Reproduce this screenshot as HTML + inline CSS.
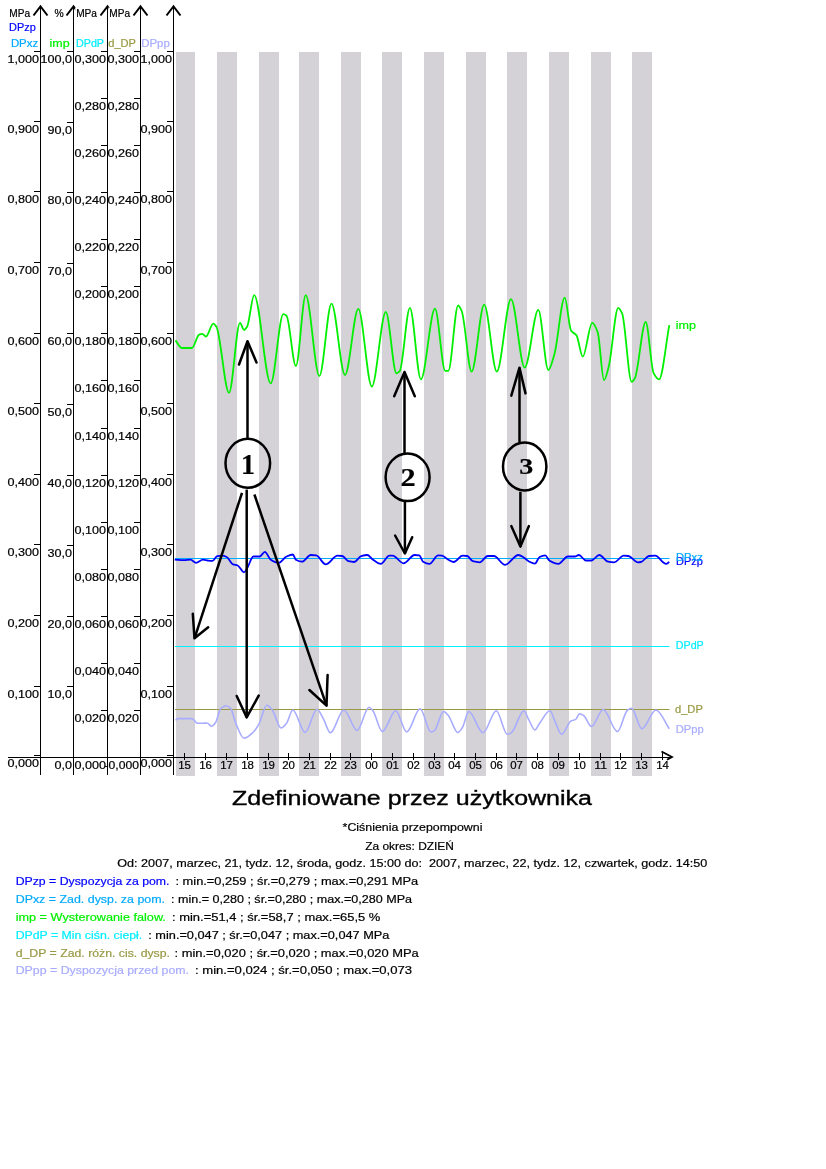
<!DOCTYPE html>
<html><head><meta charset="utf-8"><style>
html,body{margin:0;padding:0;background:#fff;}
body{width:826px;height:1169px;overflow:hidden;}
svg{display:block;font-family:"Liberation Sans", sans-serif;will-change:transform;} text{stroke:currentColor;stroke-width:0.2px;}
</style></head><body>
<svg width="826" height="1169" viewBox="0 0 826 1169">
<rect width="826" height="1169" fill="#fff"/>
<rect x="176" y="52" width="19" height="724" fill="#d4d2d6"/>
<rect x="217" y="52" width="20" height="724" fill="#d4d2d6"/>
<rect x="259" y="52" width="20" height="724" fill="#d4d2d6"/>
<rect x="299" y="52" width="20" height="724" fill="#d4d2d6"/>
<rect x="341" y="52" width="20" height="724" fill="#d4d2d6"/>
<rect x="382" y="52" width="20" height="724" fill="#d4d2d6"/>
<rect x="424" y="52" width="20" height="724" fill="#d4d2d6"/>
<rect x="466" y="52" width="20" height="724" fill="#d4d2d6"/>
<rect x="507" y="52" width="20" height="724" fill="#d4d2d6"/>
<rect x="549" y="52" width="20" height="724" fill="#d4d2d6"/>
<rect x="591" y="52" width="20" height="724" fill="#d4d2d6"/>
<rect x="632" y="52" width="20" height="724" fill="#d4d2d6"/>
<line x1="40.5" y1="7" x2="40.5" y2="775" stroke="#000" stroke-width="1"/>
<line x1="73.5" y1="7" x2="73.5" y2="775" stroke="#000" stroke-width="1"/>
<line x1="107.5" y1="7" x2="107.5" y2="775" stroke="#000" stroke-width="1"/>
<line x1="140.5" y1="7" x2="140.5" y2="775" stroke="#000" stroke-width="1"/>
<line x1="173.5" y1="7" x2="173.5" y2="775" stroke="#000" stroke-width="1"/>
<line x1="8" y1="757.5" x2="671" y2="757.5" stroke="#000" stroke-width="1"/>
<line x1="34" y1="51.5" x2="40.5" y2="51.5" stroke="#000" stroke-width="1"/>
<text x="39" y="63.0" text-anchor="end" font-size="11" textLength="31.5" lengthAdjust="spacingAndGlyphs">1,000</text>
<line x1="167" y1="51.5" x2="173.5" y2="51.5" stroke="#000" stroke-width="1"/>
<text x="172" y="63.0" text-anchor="end" font-size="11" textLength="31.5" lengthAdjust="spacingAndGlyphs">1,000</text>
<line x1="67" y1="51.5" x2="73.5" y2="51.5" stroke="#000" stroke-width="1"/>
<text x="72" y="63.0" text-anchor="end" font-size="11" textLength="31.5" lengthAdjust="spacingAndGlyphs">100,0</text>
<line x1="34" y1="121.5" x2="40.5" y2="121.5" stroke="#000" stroke-width="1"/>
<text x="39" y="133.0" text-anchor="end" font-size="11" textLength="31.5" lengthAdjust="spacingAndGlyphs">0,900</text>
<line x1="167" y1="121.5" x2="173.5" y2="121.5" stroke="#000" stroke-width="1"/>
<text x="172" y="133.0" text-anchor="end" font-size="11" textLength="31.5" lengthAdjust="spacingAndGlyphs">0,900</text>
<line x1="67" y1="122.5" x2="73.5" y2="122.5" stroke="#000" stroke-width="1"/>
<text x="72" y="134.0" text-anchor="end" font-size="11" textLength="24.5" lengthAdjust="spacingAndGlyphs">90,0</text>
<line x1="34" y1="191.5" x2="40.5" y2="191.5" stroke="#000" stroke-width="1"/>
<text x="39" y="203.0" text-anchor="end" font-size="11" textLength="31.5" lengthAdjust="spacingAndGlyphs">0,800</text>
<line x1="167" y1="191.5" x2="173.5" y2="191.5" stroke="#000" stroke-width="1"/>
<text x="172" y="203.0" text-anchor="end" font-size="11" textLength="31.5" lengthAdjust="spacingAndGlyphs">0,800</text>
<line x1="67" y1="192.5" x2="73.5" y2="192.5" stroke="#000" stroke-width="1"/>
<text x="72" y="204.0" text-anchor="end" font-size="11" textLength="24.5" lengthAdjust="spacingAndGlyphs">80,0</text>
<line x1="34" y1="262.5" x2="40.5" y2="262.5" stroke="#000" stroke-width="1"/>
<text x="39" y="274.0" text-anchor="end" font-size="11" textLength="31.5" lengthAdjust="spacingAndGlyphs">0,700</text>
<line x1="167" y1="262.5" x2="173.5" y2="262.5" stroke="#000" stroke-width="1"/>
<text x="172" y="274.0" text-anchor="end" font-size="11" textLength="31.5" lengthAdjust="spacingAndGlyphs">0,700</text>
<line x1="67" y1="263.5" x2="73.5" y2="263.5" stroke="#000" stroke-width="1"/>
<text x="72" y="275.0" text-anchor="end" font-size="11" textLength="24.5" lengthAdjust="spacingAndGlyphs">70,0</text>
<line x1="34" y1="333.5" x2="40.5" y2="333.5" stroke="#000" stroke-width="1"/>
<text x="39" y="345.0" text-anchor="end" font-size="11" textLength="31.5" lengthAdjust="spacingAndGlyphs">0,600</text>
<line x1="167" y1="333.5" x2="173.5" y2="333.5" stroke="#000" stroke-width="1"/>
<text x="172" y="345.0" text-anchor="end" font-size="11" textLength="31.5" lengthAdjust="spacingAndGlyphs">0,600</text>
<line x1="67" y1="333.5" x2="73.5" y2="333.5" stroke="#000" stroke-width="1"/>
<text x="72" y="345.0" text-anchor="end" font-size="11" textLength="24.5" lengthAdjust="spacingAndGlyphs">60,0</text>
<line x1="34" y1="403.5" x2="40.5" y2="403.5" stroke="#000" stroke-width="1"/>
<text x="39" y="415.0" text-anchor="end" font-size="11" textLength="31.5" lengthAdjust="spacingAndGlyphs">0,500</text>
<line x1="167" y1="403.5" x2="173.5" y2="403.5" stroke="#000" stroke-width="1"/>
<text x="172" y="415.0" text-anchor="end" font-size="11" textLength="31.5" lengthAdjust="spacingAndGlyphs">0,500</text>
<line x1="67" y1="404.5" x2="73.5" y2="404.5" stroke="#000" stroke-width="1"/>
<text x="72" y="416.0" text-anchor="end" font-size="11" textLength="24.5" lengthAdjust="spacingAndGlyphs">50,0</text>
<line x1="34" y1="474.5" x2="40.5" y2="474.5" stroke="#000" stroke-width="1"/>
<text x="39" y="486.0" text-anchor="end" font-size="11" textLength="31.5" lengthAdjust="spacingAndGlyphs">0,400</text>
<line x1="167" y1="474.5" x2="173.5" y2="474.5" stroke="#000" stroke-width="1"/>
<text x="172" y="486.0" text-anchor="end" font-size="11" textLength="31.5" lengthAdjust="spacingAndGlyphs">0,400</text>
<line x1="67" y1="475.5" x2="73.5" y2="475.5" stroke="#000" stroke-width="1"/>
<text x="72" y="487.0" text-anchor="end" font-size="11" textLength="24.5" lengthAdjust="spacingAndGlyphs">40,0</text>
<line x1="34" y1="544.5" x2="40.5" y2="544.5" stroke="#000" stroke-width="1"/>
<text x="39" y="556.0" text-anchor="end" font-size="11" textLength="31.5" lengthAdjust="spacingAndGlyphs">0,300</text>
<line x1="167" y1="544.5" x2="173.5" y2="544.5" stroke="#000" stroke-width="1"/>
<text x="172" y="556.0" text-anchor="end" font-size="11" textLength="31.5" lengthAdjust="spacingAndGlyphs">0,300</text>
<line x1="67" y1="545.5" x2="73.5" y2="545.5" stroke="#000" stroke-width="1"/>
<text x="72" y="557.0" text-anchor="end" font-size="11" textLength="24.5" lengthAdjust="spacingAndGlyphs">30,0</text>
<line x1="34" y1="615.5" x2="40.5" y2="615.5" stroke="#000" stroke-width="1"/>
<text x="39" y="627.0" text-anchor="end" font-size="11" textLength="31.5" lengthAdjust="spacingAndGlyphs">0,200</text>
<line x1="167" y1="615.5" x2="173.5" y2="615.5" stroke="#000" stroke-width="1"/>
<text x="172" y="627.0" text-anchor="end" font-size="11" textLength="31.5" lengthAdjust="spacingAndGlyphs">0,200</text>
<line x1="67" y1="616.5" x2="73.5" y2="616.5" stroke="#000" stroke-width="1"/>
<text x="72" y="628.0" text-anchor="end" font-size="11" textLength="24.5" lengthAdjust="spacingAndGlyphs">20,0</text>
<line x1="34" y1="686.5" x2="40.5" y2="686.5" stroke="#000" stroke-width="1"/>
<text x="39" y="698.0" text-anchor="end" font-size="11" textLength="31.5" lengthAdjust="spacingAndGlyphs">0,100</text>
<line x1="167" y1="686.5" x2="173.5" y2="686.5" stroke="#000" stroke-width="1"/>
<text x="172" y="698.0" text-anchor="end" font-size="11" textLength="31.5" lengthAdjust="spacingAndGlyphs">0,100</text>
<line x1="67" y1="686.5" x2="73.5" y2="686.5" stroke="#000" stroke-width="1"/>
<text x="72" y="698.0" text-anchor="end" font-size="11" textLength="24.5" lengthAdjust="spacingAndGlyphs">10,0</text>
<line x1="34" y1="755.5" x2="40.5" y2="755.5" stroke="#000" stroke-width="1"/>
<text x="39" y="767.0" text-anchor="end" font-size="11" textLength="31.5" lengthAdjust="spacingAndGlyphs">0,000</text>
<line x1="167" y1="755.5" x2="173.5" y2="755.5" stroke="#000" stroke-width="1"/>
<text x="172" y="767.0" text-anchor="end" font-size="11" textLength="31.5" lengthAdjust="spacingAndGlyphs">0,000</text>
<line x1="67" y1="757.5" x2="73.5" y2="757.5" stroke="#000" stroke-width="1"/>
<text x="72" y="769.0" text-anchor="end" font-size="11" textLength="17.5" lengthAdjust="spacingAndGlyphs">0,0</text>
<line x1="101" y1="51.5" x2="107.5" y2="51.5" stroke="#000" stroke-width="1"/>
<text x="106" y="63.0" text-anchor="end" font-size="11" textLength="31.5" lengthAdjust="spacingAndGlyphs">0,300</text>
<line x1="134" y1="51.5" x2="140.5" y2="51.5" stroke="#000" stroke-width="1"/>
<text x="139" y="63.0" text-anchor="end" font-size="11" textLength="31.5" lengthAdjust="spacingAndGlyphs">0,300</text>
<line x1="101" y1="98.5" x2="107.5" y2="98.5" stroke="#000" stroke-width="1"/>
<text x="106" y="110.0" text-anchor="end" font-size="11" textLength="31.5" lengthAdjust="spacingAndGlyphs">0,280</text>
<line x1="134" y1="98.5" x2="140.5" y2="98.5" stroke="#000" stroke-width="1"/>
<text x="139" y="110.0" text-anchor="end" font-size="11" textLength="31.5" lengthAdjust="spacingAndGlyphs">0,280</text>
<line x1="101" y1="145.5" x2="107.5" y2="145.5" stroke="#000" stroke-width="1"/>
<text x="106" y="157.0" text-anchor="end" font-size="11" textLength="31.5" lengthAdjust="spacingAndGlyphs">0,260</text>
<line x1="134" y1="145.5" x2="140.5" y2="145.5" stroke="#000" stroke-width="1"/>
<text x="139" y="157.0" text-anchor="end" font-size="11" textLength="31.5" lengthAdjust="spacingAndGlyphs">0,260</text>
<line x1="101" y1="192.5" x2="107.5" y2="192.5" stroke="#000" stroke-width="1"/>
<text x="106" y="204.0" text-anchor="end" font-size="11" textLength="31.5" lengthAdjust="spacingAndGlyphs">0,240</text>
<line x1="134" y1="192.5" x2="140.5" y2="192.5" stroke="#000" stroke-width="1"/>
<text x="139" y="204.0" text-anchor="end" font-size="11" textLength="31.5" lengthAdjust="spacingAndGlyphs">0,240</text>
<line x1="101" y1="239.5" x2="107.5" y2="239.5" stroke="#000" stroke-width="1"/>
<text x="106" y="251.0" text-anchor="end" font-size="11" textLength="31.5" lengthAdjust="spacingAndGlyphs">0,220</text>
<line x1="134" y1="239.5" x2="140.5" y2="239.5" stroke="#000" stroke-width="1"/>
<text x="139" y="251.0" text-anchor="end" font-size="11" textLength="31.5" lengthAdjust="spacingAndGlyphs">0,220</text>
<line x1="101" y1="286.5" x2="107.5" y2="286.5" stroke="#000" stroke-width="1"/>
<text x="106" y="298.0" text-anchor="end" font-size="11" textLength="31.5" lengthAdjust="spacingAndGlyphs">0,200</text>
<line x1="134" y1="286.5" x2="140.5" y2="286.5" stroke="#000" stroke-width="1"/>
<text x="139" y="298.0" text-anchor="end" font-size="11" textLength="31.5" lengthAdjust="spacingAndGlyphs">0,200</text>
<line x1="101" y1="333.5" x2="107.5" y2="333.5" stroke="#000" stroke-width="1"/>
<text x="106" y="345.0" text-anchor="end" font-size="11" textLength="31.5" lengthAdjust="spacingAndGlyphs">0,180</text>
<line x1="134" y1="333.5" x2="140.5" y2="333.5" stroke="#000" stroke-width="1"/>
<text x="139" y="345.0" text-anchor="end" font-size="11" textLength="31.5" lengthAdjust="spacingAndGlyphs">0,180</text>
<line x1="101" y1="380.5" x2="107.5" y2="380.5" stroke="#000" stroke-width="1"/>
<text x="106" y="392.0" text-anchor="end" font-size="11" textLength="31.5" lengthAdjust="spacingAndGlyphs">0,160</text>
<line x1="134" y1="380.5" x2="140.5" y2="380.5" stroke="#000" stroke-width="1"/>
<text x="139" y="392.0" text-anchor="end" font-size="11" textLength="31.5" lengthAdjust="spacingAndGlyphs">0,160</text>
<line x1="101" y1="428.5" x2="107.5" y2="428.5" stroke="#000" stroke-width="1"/>
<text x="106" y="440.0" text-anchor="end" font-size="11" textLength="31.5" lengthAdjust="spacingAndGlyphs">0,140</text>
<line x1="134" y1="428.5" x2="140.5" y2="428.5" stroke="#000" stroke-width="1"/>
<text x="139" y="440.0" text-anchor="end" font-size="11" textLength="31.5" lengthAdjust="spacingAndGlyphs">0,140</text>
<line x1="101" y1="475.5" x2="107.5" y2="475.5" stroke="#000" stroke-width="1"/>
<text x="106" y="487.0" text-anchor="end" font-size="11" textLength="31.5" lengthAdjust="spacingAndGlyphs">0,120</text>
<line x1="134" y1="475.5" x2="140.5" y2="475.5" stroke="#000" stroke-width="1"/>
<text x="139" y="487.0" text-anchor="end" font-size="11" textLength="31.5" lengthAdjust="spacingAndGlyphs">0,120</text>
<line x1="101" y1="522.5" x2="107.5" y2="522.5" stroke="#000" stroke-width="1"/>
<text x="106" y="534.0" text-anchor="end" font-size="11" textLength="31.5" lengthAdjust="spacingAndGlyphs">0,100</text>
<line x1="134" y1="522.5" x2="140.5" y2="522.5" stroke="#000" stroke-width="1"/>
<text x="139" y="534.0" text-anchor="end" font-size="11" textLength="31.5" lengthAdjust="spacingAndGlyphs">0,100</text>
<line x1="101" y1="569.5" x2="107.5" y2="569.5" stroke="#000" stroke-width="1"/>
<text x="106" y="581.0" text-anchor="end" font-size="11" textLength="31.5" lengthAdjust="spacingAndGlyphs">0,080</text>
<line x1="134" y1="569.5" x2="140.5" y2="569.5" stroke="#000" stroke-width="1"/>
<text x="139" y="581.0" text-anchor="end" font-size="11" textLength="31.5" lengthAdjust="spacingAndGlyphs">0,080</text>
<line x1="101" y1="616.5" x2="107.5" y2="616.5" stroke="#000" stroke-width="1"/>
<text x="106" y="628.0" text-anchor="end" font-size="11" textLength="31.5" lengthAdjust="spacingAndGlyphs">0,060</text>
<line x1="134" y1="616.5" x2="140.5" y2="616.5" stroke="#000" stroke-width="1"/>
<text x="139" y="628.0" text-anchor="end" font-size="11" textLength="31.5" lengthAdjust="spacingAndGlyphs">0,060</text>
<line x1="101" y1="663.5" x2="107.5" y2="663.5" stroke="#000" stroke-width="1"/>
<text x="106" y="675.0" text-anchor="end" font-size="11" textLength="31.5" lengthAdjust="spacingAndGlyphs">0,040</text>
<line x1="134" y1="663.5" x2="140.5" y2="663.5" stroke="#000" stroke-width="1"/>
<text x="139" y="675.0" text-anchor="end" font-size="11" textLength="31.5" lengthAdjust="spacingAndGlyphs">0,040</text>
<line x1="101" y1="710.5" x2="107.5" y2="710.5" stroke="#000" stroke-width="1"/>
<text x="106" y="722.0" text-anchor="end" font-size="11" textLength="31.5" lengthAdjust="spacingAndGlyphs">0,020</text>
<line x1="134" y1="710.5" x2="140.5" y2="710.5" stroke="#000" stroke-width="1"/>
<text x="139" y="722.0" text-anchor="end" font-size="11" textLength="31.5" lengthAdjust="spacingAndGlyphs">0,020</text>
<line x1="101" y1="757.5" x2="107.5" y2="757.5" stroke="#000" stroke-width="1"/>
<text x="106" y="769.0" text-anchor="end" font-size="11" textLength="31.5" lengthAdjust="spacingAndGlyphs">0,000</text>
<line x1="134" y1="757.5" x2="140.5" y2="757.5" stroke="#000" stroke-width="1"/>
<text x="139" y="769.0" text-anchor="end" font-size="11" textLength="34.5" lengthAdjust="spacingAndGlyphs">-0,000</text>
<line x1="184.5" y1="753" x2="184.5" y2="760" stroke="#000" stroke-width="1"/>
<text x="184.6" y="768.7" text-anchor="middle" font-size="10.5" textLength="12.7" lengthAdjust="spacingAndGlyphs">15</text>
<line x1="205.5" y1="753" x2="205.5" y2="760" stroke="#000" stroke-width="1"/>
<text x="205.6" y="768.7" text-anchor="middle" font-size="10.5" textLength="12.7" lengthAdjust="spacingAndGlyphs">16</text>
<line x1="226.5" y1="753" x2="226.5" y2="760" stroke="#000" stroke-width="1"/>
<text x="226.6" y="768.7" text-anchor="middle" font-size="10.5" textLength="12.7" lengthAdjust="spacingAndGlyphs">17</text>
<line x1="247.5" y1="753" x2="247.5" y2="760" stroke="#000" stroke-width="1"/>
<text x="247.6" y="768.7" text-anchor="middle" font-size="10.5" textLength="12.7" lengthAdjust="spacingAndGlyphs">18</text>
<line x1="268.5" y1="753" x2="268.5" y2="760" stroke="#000" stroke-width="1"/>
<text x="268.6" y="768.7" text-anchor="middle" font-size="10.5" textLength="12.7" lengthAdjust="spacingAndGlyphs">19</text>
<line x1="288.5" y1="753" x2="288.5" y2="760" stroke="#000" stroke-width="1"/>
<text x="288.6" y="768.7" text-anchor="middle" font-size="10.5" textLength="12.7" lengthAdjust="spacingAndGlyphs">20</text>
<line x1="309.5" y1="753" x2="309.5" y2="760" stroke="#000" stroke-width="1"/>
<text x="309.6" y="768.7" text-anchor="middle" font-size="10.5" textLength="12.7" lengthAdjust="spacingAndGlyphs">21</text>
<line x1="330.5" y1="753" x2="330.5" y2="760" stroke="#000" stroke-width="1"/>
<text x="330.6" y="768.7" text-anchor="middle" font-size="10.5" textLength="12.7" lengthAdjust="spacingAndGlyphs">22</text>
<line x1="350.5" y1="753" x2="350.5" y2="760" stroke="#000" stroke-width="1"/>
<text x="350.6" y="768.7" text-anchor="middle" font-size="10.5" textLength="12.7" lengthAdjust="spacingAndGlyphs">23</text>
<line x1="371.5" y1="753" x2="371.5" y2="760" stroke="#000" stroke-width="1"/>
<text x="371.6" y="768.7" text-anchor="middle" font-size="10.5" textLength="12.7" lengthAdjust="spacingAndGlyphs">00</text>
<line x1="392.5" y1="753" x2="392.5" y2="760" stroke="#000" stroke-width="1"/>
<text x="392.6" y="768.7" text-anchor="middle" font-size="10.5" textLength="12.7" lengthAdjust="spacingAndGlyphs">01</text>
<line x1="413.5" y1="753" x2="413.5" y2="760" stroke="#000" stroke-width="1"/>
<text x="413.6" y="768.7" text-anchor="middle" font-size="10.5" textLength="12.7" lengthAdjust="spacingAndGlyphs">02</text>
<line x1="434.5" y1="753" x2="434.5" y2="760" stroke="#000" stroke-width="1"/>
<text x="434.6" y="768.7" text-anchor="middle" font-size="10.5" textLength="12.7" lengthAdjust="spacingAndGlyphs">03</text>
<line x1="454.5" y1="753" x2="454.5" y2="760" stroke="#000" stroke-width="1"/>
<text x="454.6" y="768.7" text-anchor="middle" font-size="10.5" textLength="12.7" lengthAdjust="spacingAndGlyphs">04</text>
<line x1="475.5" y1="753" x2="475.5" y2="760" stroke="#000" stroke-width="1"/>
<text x="475.6" y="768.7" text-anchor="middle" font-size="10.5" textLength="12.7" lengthAdjust="spacingAndGlyphs">05</text>
<line x1="496.5" y1="753" x2="496.5" y2="760" stroke="#000" stroke-width="1"/>
<text x="496.6" y="768.7" text-anchor="middle" font-size="10.5" textLength="12.7" lengthAdjust="spacingAndGlyphs">06</text>
<line x1="516.5" y1="753" x2="516.5" y2="760" stroke="#000" stroke-width="1"/>
<text x="516.6" y="768.7" text-anchor="middle" font-size="10.5" textLength="12.7" lengthAdjust="spacingAndGlyphs">07</text>
<line x1="537.5" y1="753" x2="537.5" y2="760" stroke="#000" stroke-width="1"/>
<text x="537.6" y="768.7" text-anchor="middle" font-size="10.5" textLength="12.7" lengthAdjust="spacingAndGlyphs">08</text>
<line x1="558.5" y1="753" x2="558.5" y2="760" stroke="#000" stroke-width="1"/>
<text x="558.6" y="768.7" text-anchor="middle" font-size="10.5" textLength="12.7" lengthAdjust="spacingAndGlyphs">09</text>
<line x1="579.5" y1="753" x2="579.5" y2="760" stroke="#000" stroke-width="1"/>
<text x="579.6" y="768.7" text-anchor="middle" font-size="10.5" textLength="12.7" lengthAdjust="spacingAndGlyphs">10</text>
<line x1="600.5" y1="753" x2="600.5" y2="760" stroke="#000" stroke-width="1"/>
<text x="600.6" y="768.7" text-anchor="middle" font-size="10.5" textLength="12.7" lengthAdjust="spacingAndGlyphs">11</text>
<line x1="620.5" y1="753" x2="620.5" y2="760" stroke="#000" stroke-width="1"/>
<text x="620.6" y="768.7" text-anchor="middle" font-size="10.5" textLength="12.7" lengthAdjust="spacingAndGlyphs">12</text>
<line x1="641.5" y1="753" x2="641.5" y2="760" stroke="#000" stroke-width="1"/>
<text x="641.6" y="768.7" text-anchor="middle" font-size="10.5" textLength="12.7" lengthAdjust="spacingAndGlyphs">13</text>
<line x1="662.5" y1="753" x2="662.5" y2="760" stroke="#000" stroke-width="1"/>
<text x="662.6" y="768.7" text-anchor="middle" font-size="10.5" textLength="12.7" lengthAdjust="spacingAndGlyphs">14</text>
<polyline points="661.5,751.5 672,757 667,759.8" fill="none" stroke="#000" stroke-width="1.8"/>
<polyline points="33.5,15.5 40.5,6.5 47.5,15.5" fill="none" stroke="#000" stroke-width="2"/>
<polyline points="66.5,15.5 73.5,6.5 80.5,15.5" fill="none" stroke="#000" stroke-width="2"/>
<polyline points="100.5,15.5 107.5,6.5 114.5,15.5" fill="none" stroke="#000" stroke-width="2"/>
<polyline points="133.5,15.5 140.5,6.5 147.5,15.5" fill="none" stroke="#000" stroke-width="2"/>
<polyline points="166.5,15.5 173.5,6.5 180.5,15.5" fill="none" stroke="#000" stroke-width="2"/>
<text x="9.3" y="16.6" font-size="10" fill="#000" color="#000" textLength="20.7" lengthAdjust="spacingAndGlyphs">MPa</text>
<text x="54.5" y="16.6" font-size="10" fill="#000" color="#000" textLength="9.200000000000003" lengthAdjust="spacingAndGlyphs">%</text>
<rect x="75.2" y="7.600000000000001" width="22.799999999999997" height="11" fill="#fff"/>
<text x="76.2" y="16.6" font-size="10" fill="#000" color="#000" textLength="20.799999999999997" lengthAdjust="spacingAndGlyphs">MPa</text>
<rect x="108.3" y="7.600000000000001" width="22.700000000000003" height="11" fill="#fff"/>
<text x="109.3" y="16.6" font-size="10" fill="#000" color="#000" textLength="20.700000000000003" lengthAdjust="spacingAndGlyphs">MPa</text>
<text x="9" y="30.5" font-size="10" fill="#0000ff" color="#0000ff" textLength="26.700000000000003" lengthAdjust="spacingAndGlyphs">DPzp</text>
<text x="10.9" y="46.6" font-size="10" fill="#00aaff" color="#00aaff" textLength="27.200000000000003" lengthAdjust="spacingAndGlyphs">DPxz</text>
<text x="49.6" y="46.6" font-size="10" fill="#00f000" color="#00f000" textLength="20.1" lengthAdjust="spacingAndGlyphs">imp</text>
<text x="76" y="46.6" font-size="10" fill="#00eeff" color="#00eeff" textLength="28" lengthAdjust="spacingAndGlyphs">DPdP</text>
<text x="108.3" y="46.6" font-size="10" fill="#999944" color="#999944" textLength="27.60000000000001" lengthAdjust="spacingAndGlyphs">d_DP</text>
<text x="141.2" y="46.6" font-size="10" fill="#a8acff" color="#a8acff" textLength="28.700000000000017" lengthAdjust="spacingAndGlyphs">DPpp</text>
<line x1="175" y1="558.5" x2="669.5" y2="558.5" stroke="#00aaff" stroke-width="1.2"/>
<line x1="175" y1="646.5" x2="669.5" y2="646.5" stroke="#00eeff" stroke-width="1.2"/>
<line x1="175" y1="709.5" x2="669.5" y2="709.5" stroke="#999944" stroke-width="1.2"/>
<path d="M175.5,720.2 C176.30,719.67 177.10,718.60 177.9,718.6 C182.60,718.60 187.30,718.60 192.0,718.6 C193.83,718.60 195.67,723.30 197.5,723.3 C199.33,723.30 201.17,723.30 203.0,723.3 C204.33,723.30 205.67,723.00 207.0,723.0 C208.57,723.00 210.13,726.20 211.7,726.2 C213.00,726.20 214.30,724.31 215.6,722.5 C217.20,720.28 218.80,710.88 220.4,709.2 C222.23,707.28 224.07,705.70 225.9,705.7 C227.47,705.70 229.03,706.93 230.6,708.4 C232.43,710.12 234.27,720.00 236.1,724.1 C238.73,729.99 241.37,738.30 244.0,738.3 C247.13,738.30 250.27,734.96 253.4,732.0 C255.23,730.27 257.07,727.34 258.9,724.1 C261.53,719.44 264.17,705.20 266.8,705.2 C268.63,705.20 270.47,707.82 272.3,710.0 C275.20,713.45 278.10,728.00 281.0,728.0 C282.83,728.00 284.67,725.51 286.5,723.3 C288.60,720.77 290.70,710.00 292.8,710.0 C296.93,710.00 301.07,732.50 305.2,732.5 C309.13,732.50 313.07,709.20 317.0,709.2 C319.10,709.20 321.20,715.02 323.3,718.6 C325.67,722.63 328.03,732.80 330.4,732.8 C334.87,732.80 339.33,710.00 343.8,710.0 C348.27,710.00 352.73,730.40 357.2,730.4 C361.13,730.40 365.07,707.30 369.0,707.3 C370.30,707.30 371.60,709.17 372.9,710.7 C376.03,714.40 379.17,731.50 382.3,731.5 C386.77,731.50 391.23,710.70 395.7,710.7 C399.37,710.70 403.03,732.00 406.7,732.0 C411.17,732.00 415.63,708.80 420.1,708.8 C423.73,708.80 427.37,732.00 431.0,732.0 C432.07,732.00 433.13,731.46 434.2,730.9 C437.33,729.25 440.47,711.50 443.6,711.5 C445.17,711.50 446.73,713.76 448.3,715.5 C451.47,719.01 454.63,732.50 457.8,732.5 C459.37,732.50 460.93,729.66 462.5,727.3 C464.60,724.14 466.70,711.50 468.8,711.5 C473.53,711.50 478.27,732.80 483.0,732.8 C487.43,732.80 491.87,710.70 496.3,710.7 C499.97,710.70 503.63,734.30 507.3,734.3 C508.63,734.30 509.97,733.54 511.3,732.8 C515.50,730.47 519.70,710.70 523.9,710.7 C525.47,710.70 527.03,716.63 528.6,719.4 C530.70,723.11 532.80,730.00 534.9,730.0 C536.47,730.00 538.03,725.37 539.6,723.3 C543.07,718.71 546.53,710.70 550.0,710.7 C551.73,710.70 553.47,718.23 555.2,721.8 C557.30,726.12 559.40,734.30 561.5,734.3 C564.67,734.30 567.83,722.62 571.0,721.0 C572.57,720.20 574.13,720.28 575.7,719.4 C577.00,718.67 578.30,713.90 579.6,713.9 C580.93,713.90 582.27,714.72 583.6,715.5 C586.20,717.03 588.80,726.50 591.4,726.5 C595.33,726.50 599.27,709.50 603.2,709.5 C607.93,709.50 612.67,731.50 617.4,731.5 C620.80,731.50 624.20,712.08 627.6,710.0 C628.93,709.18 630.27,708.40 631.6,708.4 C635.00,708.40 638.40,728.80 641.8,728.8 C646.53,728.80 651.27,710.00 656.0,710.0 C660.43,710.00 664.87,722.53 669.3,728.8" fill="none" stroke="#a8acff" stroke-width="1.6" stroke-linejoin="round"/>
<path d="M174.7,559.7 C177.87,559.83 181.03,560.10 184.2,560.1 C186.30,560.10 188.40,559.70 190.5,559.7 C192.33,559.70 194.17,562.80 196.0,562.8 C198.33,562.80 200.67,559.70 203.0,559.7 C204.60,559.70 206.20,560.35 207.8,560.5 C209.37,560.64 210.93,560.80 212.5,560.8 C214.07,560.80 215.63,556.50 217.2,556.2 C218.80,555.90 220.40,555.70 222.0,555.7 C223.57,555.70 225.13,556.32 226.7,557.0 C228.80,557.91 230.90,563.61 233.0,564.4 C234.57,564.99 236.13,564.92 237.7,565.5 C239.80,566.28 241.90,572.30 244.0,572.3 C245.03,572.30 246.07,569.85 247.1,568.3 C249.20,565.16 251.30,556.50 253.4,556.5 C255.50,556.50 257.60,556.50 259.7,556.5 C261.43,556.50 263.17,551.80 264.9,551.8 C266.83,551.80 268.77,558.49 270.7,559.7 C273.33,561.35 275.97,562.80 278.6,562.8 C281.23,562.80 283.87,557.68 286.5,556.5 C288.60,555.56 290.70,554.50 292.8,554.5 C293.83,554.50 294.87,559.10 295.9,559.7 C297.97,560.91 300.03,561.70 302.1,561.7 C304.97,561.70 307.83,555.00 310.7,555.0 C312.53,555.00 314.37,555.17 316.2,555.4 C319.37,555.80 322.53,564.40 325.7,564.4 C329.63,564.40 333.57,555.70 337.5,555.7 C339.07,555.70 340.63,555.82 342.2,556.0 C344.30,556.24 346.40,560.69 348.5,561.2 C350.33,561.65 352.17,562.00 354.0,562.0 C356.37,562.00 358.73,556.92 361.1,556.2 C363.20,555.56 365.30,555.00 367.4,555.0 C368.97,555.00 370.53,557.82 372.1,558.9 C375.00,560.91 377.90,563.90 380.8,563.9 C383.67,563.90 386.53,555.70 389.4,555.7 C390.47,555.70 391.53,555.70 392.6,555.7 C396.27,555.70 399.93,563.30 403.6,563.3 C407.27,563.30 410.93,555.00 414.6,555.0 C416.17,555.00 417.73,555.14 419.3,555.4 C420.57,555.61 421.83,560.93 423.1,561.7 C425.20,562.98 427.30,563.90 429.4,563.9 C432.30,563.90 435.20,555.40 438.1,555.4 C439.40,555.40 440.70,555.53 442.0,555.7 C444.10,555.97 446.20,558.65 448.3,559.7 C450.13,560.62 451.97,562.00 453.8,562.0 C456.70,562.00 459.60,555.70 462.5,555.7 C464.07,555.70 465.63,555.82 467.2,556.0 C469.03,556.21 470.87,560.70 472.7,561.2 C475.07,561.85 477.43,562.30 479.8,562.3 C482.43,562.30 485.07,556.00 487.7,556.0 C489.80,556.00 491.90,556.00 494.0,556.0 C497.67,556.00 501.33,564.90 505.0,564.9 C509.47,564.90 513.93,555.00 518.4,555.0 C520.23,555.00 522.07,556.52 523.9,557.6 C525.47,558.52 527.03,560.39 528.6,561.2 C530.70,562.29 532.80,563.60 534.9,563.6 C536.47,563.60 538.03,557.77 539.6,557.0 C541.43,556.10 543.27,555.40 545.1,555.4 C546.63,555.40 548.17,559.91 549.7,560.8 C552.60,562.48 555.50,563.90 558.4,563.9 C561.53,563.90 564.67,556.50 567.8,556.5 C570.17,556.50 572.53,556.50 574.9,556.5 C576.20,556.50 577.50,555.00 578.8,555.0 C581.17,555.00 583.53,560.50 585.9,560.5 C587.73,560.50 589.57,560.50 591.4,560.5 C594.03,560.50 596.67,555.00 599.3,555.0 C602.20,555.00 605.10,561.22 608.0,561.7 C610.07,562.04 612.13,562.30 614.2,562.3 C617.37,562.30 620.53,555.70 623.7,555.7 C625.27,555.70 626.83,555.83 628.4,556.0 C631.57,556.34 634.73,562.30 637.9,562.3 C638.93,562.30 639.97,562.16 641.0,562.0 C643.63,561.59 646.27,556.23 648.9,556.0 C651.00,555.82 653.10,555.70 655.2,555.7 C658.87,555.70 662.53,563.90 666.2,563.9 C667.23,563.90 668.27,562.63 669.3,562.0" fill="none" stroke="#0000ff" stroke-width="1.8" stroke-linejoin="round"/>
<path d="M175.5,340.4 C177.60,342.93 179.70,348.00 181.8,348.0 C185.20,348.00 188.60,348.00 192.0,348.0 C194.37,348.00 196.73,335.55 199.1,334.6 C200.17,334.17 201.23,333.80 202.3,333.8 C203.50,333.80 204.70,336.60 205.9,336.6 C208.37,336.60 210.83,323.60 213.3,323.6 C214.33,323.60 215.37,325.17 216.4,326.7 C220.60,332.90 224.80,392.80 229.0,392.8 C232.67,392.80 236.33,322.80 240.0,322.8 C241.33,322.80 242.67,329.90 244.0,329.9 C245.03,329.90 246.07,328.30 247.1,326.7 C249.47,323.03 251.83,295.20 254.2,295.2 C259.70,295.20 265.20,383.40 270.7,383.4 C274.90,383.40 279.10,314.10 283.3,314.1 C284.37,314.10 285.43,314.84 286.5,315.7 C289.63,318.22 292.77,366.00 295.9,366.0 C299.17,366.00 302.43,295.20 305.7,295.2 C310.27,295.20 314.83,376.00 319.4,376.0 C323.43,376.00 327.47,303.60 331.5,303.6 C336.00,303.60 340.50,375.00 345.0,375.0 C349.43,375.00 353.87,308.90 358.3,308.9 C362.80,308.90 367.30,386.50 371.8,386.5 C376.47,386.50 381.13,312.00 385.8,312.0 C389.37,312.00 392.93,373.40 396.5,373.4 C397.57,373.40 398.63,372.36 399.7,371.2 C403.10,367.51 406.50,307.80 409.9,307.8 C413.57,307.80 417.23,379.40 420.9,379.4 C425.60,379.40 430.30,308.60 435.0,308.6 C438.40,308.60 441.80,370.80 445.2,370.8 C446.23,370.80 447.27,370.80 448.3,370.8 C451.57,370.80 454.83,305.50 458.1,305.5 C459.30,305.50 460.50,308.32 461.7,311.0 C465.00,318.38 468.30,371.60 471.6,371.6 C475.80,371.60 480.00,304.70 484.2,304.7 C488.40,304.70 492.60,371.60 496.8,371.6 C501.53,371.60 506.27,299.20 511.0,299.2 C515.57,299.20 520.13,367.60 524.7,367.6 C529.23,367.60 533.77,309.90 538.3,309.9 C541.63,309.90 544.97,370.00 548.3,370.0 C550.33,370.00 552.37,361.15 554.4,354.2 C557.83,342.47 561.27,297.60 564.7,297.6 C566.80,297.60 568.90,327.51 571.0,330.6 C572.83,333.30 574.67,332.89 576.5,335.4 C578.60,338.27 580.70,356.60 582.8,356.6 C585.93,356.60 589.07,322.80 592.2,322.8 C594.03,322.80 595.87,327.15 597.7,332.2 C599.80,337.98 601.90,380.20 604.0,380.2 C605.57,380.20 607.13,372.68 608.7,366.8 C611.87,354.92 615.03,307.80 618.2,307.8 C619.50,307.80 620.80,310.50 622.1,313.3 C625.27,320.13 628.43,381.80 631.6,381.8 C632.63,381.80 633.67,380.18 634.7,378.6 C638.37,372.99 642.03,322.00 645.7,322.0 C648.33,322.00 650.97,368.18 653.6,373.1 C655.43,376.53 657.27,379.40 659.1,379.4 C662.50,379.40 665.90,343.20 669.3,325.1" fill="none" stroke="#00f000" stroke-width="1.8" stroke-linejoin="round"/>
<text x="675.8" y="328.9" font-size="10" fill="#00f000" color="#00f000" textLength="20.200000000000045" lengthAdjust="spacingAndGlyphs">imp</text>
<text x="676" y="564.6" font-size="10" fill="#0000ff" color="#0000ff" textLength="26.799999999999955" lengthAdjust="spacingAndGlyphs">DPzp</text>
<text x="676" y="560.6" font-size="10" fill="#00aaff" color="#00aaff" textLength="26.799999999999955" lengthAdjust="spacingAndGlyphs">DPxz</text>
<text x="675.8" y="648.8" font-size="10" fill="#00eeff" color="#00eeff" textLength="27.90000000000009" lengthAdjust="spacingAndGlyphs">DPdP</text>
<text x="675" y="712.8" font-size="10" fill="#999944" color="#999944" textLength="27.799999999999955" lengthAdjust="spacingAndGlyphs">d_DP</text>
<text x="675.8" y="732.5" font-size="10" fill="#a8acff" color="#a8acff" textLength="27.90000000000009" lengthAdjust="spacingAndGlyphs">DPpp</text>
<line x1="247.5" y1="439" x2="247.5" y2="341.2" stroke="#000" stroke-width="2.5"/>
<polyline points="239,364.5 247.5,341.2 256.5,362.5" fill="none" stroke="#000" stroke-width="2.5" stroke-linejoin="round" stroke-linecap="round"/>
<line x1="246.7" y1="489.6" x2="246.7" y2="717.4" stroke="#000" stroke-width="2.5"/>
<polyline points="236.7,696 246.7,717.4 258.7,695.6" fill="none" stroke="#000" stroke-width="2.5" stroke-linejoin="round" stroke-linecap="round"/>
<line x1="242" y1="492.8" x2="194.5" y2="638.3" stroke="#000" stroke-width="2.5"/>
<polyline points="192.8,613.7 194.5,638.3 208.2,627.2" fill="none" stroke="#000" stroke-width="2.5" stroke-linejoin="round" stroke-linecap="round"/>
<line x1="254.4" y1="494.5" x2="326.5" y2="705.7" stroke="#000" stroke-width="2.5"/>
<polyline points="327.6,675 326.5,705.7 309.4,690" fill="none" stroke="#000" stroke-width="2.5" stroke-linejoin="round" stroke-linecap="round"/>
<ellipse cx="247.8" cy="463.3" rx="22.3" ry="24.5" fill="none" stroke="#000" stroke-width="2.5"/>
<line x1="404.5" y1="453.8" x2="404.5" y2="372" stroke="#000" stroke-width="2.5"/>
<polyline points="394.2,396.3 404.5,372 414.8,396.3" fill="none" stroke="#000" stroke-width="2.5" stroke-linejoin="round" stroke-linecap="round"/>
<line x1="404.9" y1="501" x2="404.9" y2="553.5" stroke="#000" stroke-width="2.5"/>
<polyline points="395.1,535.5 404.9,553.5 412.2,537.2" fill="none" stroke="#000" stroke-width="2.5" stroke-linejoin="round" stroke-linecap="round"/>
<ellipse cx="407.6" cy="477.3" rx="22" ry="23.75" fill="none" stroke="#000" stroke-width="2.5"/>
<line x1="519.5" y1="442.7" x2="519.5" y2="367.7" stroke="#000" stroke-width="2.5"/>
<polyline points="511.3,395.6 519.5,367.7 525.5,393.4" fill="none" stroke="#000" stroke-width="2.5" stroke-linejoin="round" stroke-linecap="round"/>
<line x1="520.4" y1="491.8" x2="520.4" y2="546.6" stroke="#000" stroke-width="2.5"/>
<polyline points="511.3,526.1 520.4,546.6 528.9,526.1" fill="none" stroke="#000" stroke-width="2.5" stroke-linejoin="round" stroke-linecap="round"/>
<ellipse cx="524.7" cy="466.5" rx="21.7" ry="23.9" fill="none" stroke="#000" stroke-width="2.5"/>
<text x="241" y="474" font-family="'Liberation Serif', serif" font-weight="bold" font-size="28.8" textLength="14" lengthAdjust="spacingAndGlyphs">1</text>
<text x="400.6" y="486.4" font-family="'Liberation Serif', serif" font-weight="bold" font-size="25.5" textLength="15.099999999999966" lengthAdjust="spacingAndGlyphs">2</text>
<text x="519.2" y="474.4" font-family="'Liberation Serif', serif" font-weight="bold" font-size="24.1" textLength="14.0" lengthAdjust="spacingAndGlyphs">3</text>
<text x="232" y="805.4" font-size="20" style="stroke-width:0.35px" textLength="360" lengthAdjust="spacingAndGlyphs">Zdefiniowane przez użytkownika</text>
<text x="342.6" y="831" font-size="11" fill="#000" color="#000" textLength="139.79999999999995" lengthAdjust="spacingAndGlyphs">*Ciśnienia przepompowni</text>
<text x="365.2" y="849.6" font-size="11" fill="#000" color="#000" textLength="88.69999999999999" lengthAdjust="spacingAndGlyphs">Za okres: DZIEŃ</text>
<text x="117.3" y="866.5" font-size="11" fill="#000" color="#000" textLength="589.9000000000001" lengthAdjust="spacingAndGlyphs">Od: 2007, marzec, 21, tydz. 12, środa, godz. 15:00 do:&#160; 2007, marzec, 22, tydz. 12, czwartek, godz. 14:50</text>
<text x="15.7" y="885.1" font-size="11" fill="#0000ff" color="#0000ff" textLength="153.8" lengthAdjust="spacingAndGlyphs">DPzp = Dyspozycja za pom.</text>
<text x="175.5" y="885.1" font-size="11" fill="#000" color="#000" textLength="242.7" lengthAdjust="spacingAndGlyphs">: min.=0,259 ; śr.=0,279 ; max.=0,291 MPa</text>
<text x="15.7" y="903.3" font-size="11" fill="#00aaff" color="#00aaff" textLength="149.3" lengthAdjust="spacingAndGlyphs">DPxz = Zad. dysp. za pom.</text>
<text x="171" y="903.3" font-size="11" fill="#000" color="#000" textLength="241" lengthAdjust="spacingAndGlyphs">: min.= 0,280 ; śr.=0,280 ; max.=0,280 MPa</text>
<text x="15.7" y="920.8" font-size="11" fill="#00f000" color="#00f000" textLength="150.20000000000002" lengthAdjust="spacingAndGlyphs">imp = Wysterowanie falow.</text>
<text x="172" y="920.8" font-size="11" fill="#000" color="#000" textLength="208.3" lengthAdjust="spacingAndGlyphs">: min.=51,4 ; śr.=58,7 ; max.=65,5 %</text>
<text x="15.7" y="939" font-size="11" fill="#00eeff" color="#00eeff" textLength="126.60000000000001" lengthAdjust="spacingAndGlyphs">DPdP = Min ciśn. ciepł.</text>
<text x="148.3" y="939" font-size="11" fill="#000" color="#000" textLength="241.09999999999997" lengthAdjust="spacingAndGlyphs">: min.=0,047 ; śr.=0,047 ; max.=0,047 MPa</text>
<text x="15.7" y="957.2" font-size="11" fill="#999944" color="#999944" textLength="154.3" lengthAdjust="spacingAndGlyphs">d_DP = Zad. różn. cis. dysp.</text>
<text x="174.5" y="957.2" font-size="11" fill="#000" color="#000" textLength="244.3" lengthAdjust="spacingAndGlyphs">: min.=0,020 ; śr.=0,020 ; max.=0,020 MPa</text>
<text x="15.7" y="974.4" font-size="11" fill="#a8acff" color="#a8acff" textLength="173.3" lengthAdjust="spacingAndGlyphs">DPpp = Dyspozycja przed pom.</text>
<text x="195" y="974.4" font-size="11" fill="#000" color="#000" textLength="217" lengthAdjust="spacingAndGlyphs">: min.=0,024 ; śr.=0,050 ; max.=0,073</text>
</svg></body></html>
